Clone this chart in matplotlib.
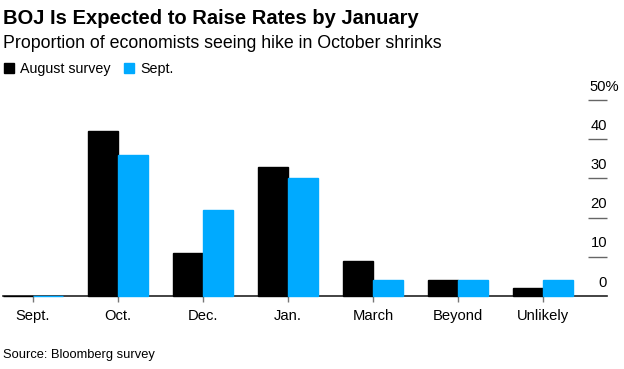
import matplotlib.pyplot as plt
from matplotlib.patches import Patch
import numpy as np

plt.rcParams['font.family'] = ['Liberation Sans', 'DejaVu Sans']

# Data (share of economists, %)
categories = ['Sept.', 'Oct.', 'Dec.', 'Jan.', 'March', 'Beyond', 'Unlikely']
augustSurvey = [0, 42, 11, 33, 9, 4, 2]
septSurvey = [0, 36, 22, 30, 4, 4, 4]
yTicks = [0, 10, 20, 30, 40, 50]

BLACK = '#000000'
BLUE = '#00aaff'

W, H = 624, 369
fig = plt.figure(figsize=(W / 100, H / 100), dpi=100)
ax = fig.add_axes([3 / W, 1 - 296 / H, (607 - 3) / W, (296 - 100) / H])

x = np.arange(len(categories))
barWidth = 0.35
ax.bar(x - barWidth / 2, augustSurvey, barWidth, color=BLACK,
       edgecolor=BLACK, linewidth=1.0, zorder=3, clip_on=False)
ax.bar(x + barWidth / 2, septSurvey, barWidth, color=BLUE,
       edgecolor=BLUE, linewidth=1.0, zorder=3, clip_on=False)

ax.set_xlim(-0.353, 6.753)
ax.set_ylim(0, 50)
for side in ['top', 'left', 'right']:
    ax.spines[side].set_visible(False)
ax.spines['bottom'].set_color('#222222')
ax.spines['bottom'].set_linewidth(1.2)
ax.spines['bottom'].set_zorder(2)

ax.set_xticks(x)
ax.set_xticklabels(categories, fontsize=10.6)
ax.tick_params(axis='x', length=4.5, width=1, color='#777777', pad=5)

# right side value axis: short ticks with labels sitting above them
ax.yaxis.tick_right()
ax.set_yticks(yTicks[1:])
ax.set_yticklabels([])
ax.tick_params(axis='y', direction='in', length=13.5, width=1,
               color='#666666', pad=0)
for value in yTicks:
    label = str(value) + ('%' if value == 50 else '')
    shift = 8.6 if value == 50 else 0
    ax.annotate(label, xy=(1, value), xycoords=ax.get_yaxis_transform(),
                xytext=(shift, 9.6), textcoords='offset points',
                ha='right', va='center', fontsize=10.6, clip_on=False)

fig.text(3 / W, 1 - 24 / H, 'BOJ Is Expected to Raise Rates by January',
         fontsize=14.5, fontweight='bold', va='baseline')
fig.text(3 / W, 1 - 48 / H,
         'Proportion of economists seeing hike in October shrinks',
         fontsize=12.8, va='baseline')

handles = [Patch(color=BLACK, label='August survey'),
           Patch(color=BLUE, label='Sept.')]
fig.legend(handles=handles, loc='upper left', bbox_to_anchor=(-2 / W, 1 - 56 / H),
           ncol=2, frameon=False, fontsize=10.3, handlelength=0.72,
           handleheight=0.72, handletextpad=0.45, columnspacing=0.9,
           borderaxespad=0)

fig.text(3 / W, 1 - 358 / H, 'Source: Bloomberg survey',
         fontsize=9.3, va='baseline')

fig.savefig('out.png', dpi=100)
